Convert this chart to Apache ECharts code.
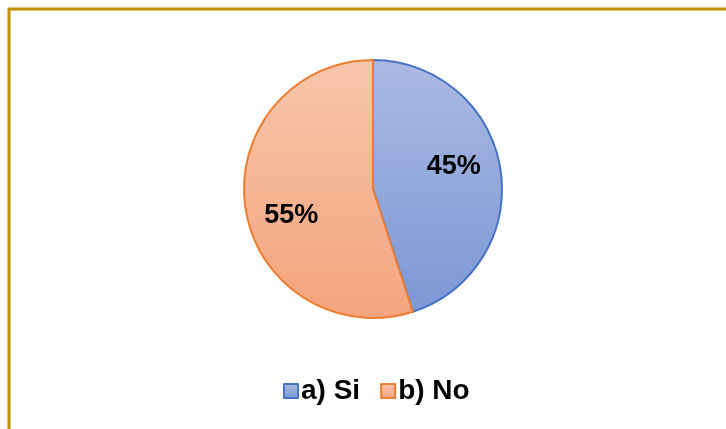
<!DOCTYPE html>
<html>
<head>
<meta charset="utf-8">
<script src="https://cdn.jsdelivr.net/npm/echarts@6/dist/echarts.min.js"></script>
<style>
  html, body { margin: 0; padding: 0; background: #fff; }
  #chart { width: 726px; height: 429px; }
</style>
</head>
<body>
<div id="chart"></div>
<script>
// datos del grafico
var categories = ['a) Si', 'b) No'];
var values = [45, 55];
var colorsTop = ['#AAB9E2', '#F8C6AC'];
var colorsBottom = ['#7B97D5', '#F4A47D'];
var borderColors = ['#4472C4', '#ED7D31'];

var chart = echarts.init(document.getElementById('chart'));

function grad(i) {
  return new echarts.graphic.LinearGradient(0, 60, 0, 318, [
    { offset: 0, color: colorsTop[i] },
    { offset: 1, color: colorsBottom[i] }
  ], true);
}

var seriesData = categories.map(function (c, i) {
  return {
    name: c,
    value: values[i],
    itemStyle: { color: grad(i), borderColor: borderColors[i], borderWidth: 2 }
  };
});

var option = {
  backgroundColor: '#fff',
  animation: false,
  legend: {
    top: 372,
    left: 278,
    itemWidth: 14,
    itemHeight: 14,
    itemGap: 20,
    icon: 'rect',
    textStyle: { fontFamily: 'Liberation Sans', fontWeight: 'bold', fontSize: 28, color: '#000', padding: [0, 0, 0, -2] },
    data: categories.map(function (c, i) {
      return {
        name: c,
        itemStyle: {
          color: new echarts.graphic.LinearGradient(0, 0, 0, 1, [
            { offset: 0, color: colorsTop[i] },
            { offset: 1, color: colorsBottom[i] }
          ]),
          borderColor: borderColors[i],
          borderWidth: 2
        }
      };
    })
  },
  graphic: [
    { type: 'line', shape: { x1: 8, y1: 9, x2: 726, y2: 9 }, style: { stroke: '#BF9000', lineWidth: 3 } },
    { type: 'line', shape: { x1: 9, y1: 8, x2: 9, y2: 429 }, style: { stroke: '#BF9000', lineWidth: 3 } }
  ],
  series: [{
    type: 'pie',
    center: [373, 189],
    radius: [0, 129],
    startAngle: 90,
    clockwise: true,
    label: {
      show: true,
      position: 'inside',
      formatter: '{d}%',
      fontFamily: 'Liberation Sans',
      fontWeight: 'bold',
      fontSize: 27,
      color: '#000'
    },
    labelLayout: function (p) {
      return p.dataIndex === 0 ? { dx: 14, dy: -12 } : { dx: -15, dy: 16 };
    },
    labelLine: { show: false },
    emphasis: { disabled: true },
    data: seriesData
  }]
};

chart.setOption(option);
</script>
</body>
</html>
